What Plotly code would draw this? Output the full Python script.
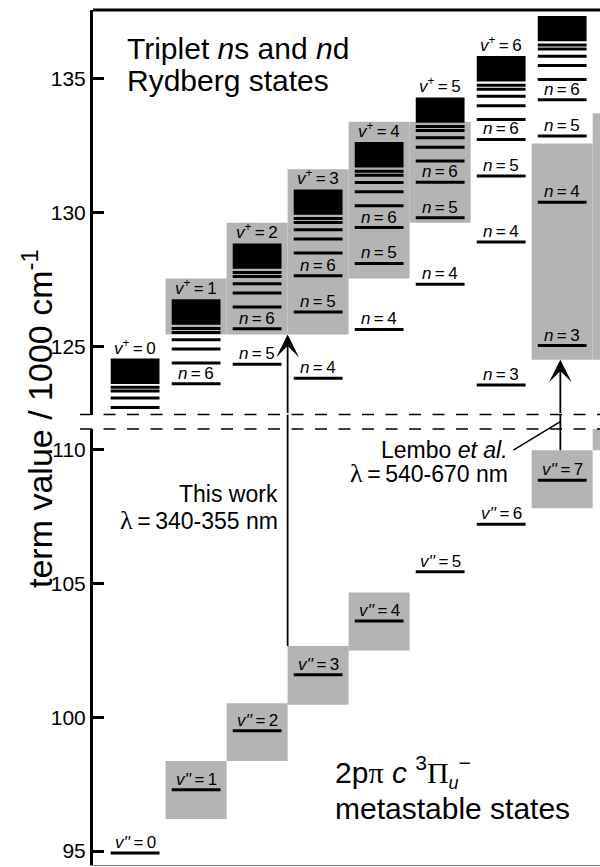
import plotly.graph_objects as go

FONT = "Liberation Sans, Arial, sans-serif"
SERIF = "Liberation Serif, Times New Roman, serif"
GRAY = "rgb(180,180,180)"
TS = "\u2009"  # thin space around '=' in the level labels

# ---------- lower panel: 2p-pi c 3Pi_u(-) metastable vibrational levels (1000 cm-1)
v_meta = [0, 1, 2, 3, 4, 5, 6, 7]
meta_levels = [94.93, 97.29, 99.49, 101.58, 103.59, 105.43, 107.20, 108.85]

# shaded excitation windows in the lower panel (column, bottom, top)
low_win_col = [1, 2, 3, 4, 7, 8]
low_win_lo = [96.20, 98.36, 100.46, 102.49, 107.80, 109.97]
low_win_hi = [98.36, 100.52, 102.66, 104.66, 109.97, 111.60]

# ---------- upper panel: triplet ns/nd Rydberg series converging on each v+
v_ion = [0, 1, 2, 3, 4, 5, 6, 7]
ion_limit = [124.54, 126.76, 128.85, 130.87, 132.64, 134.31, 135.86, 137.36]
dense_bottom = [123.59, 125.81, 127.90, 129.92, 131.69, 133.36, 134.91, 136.41]
high_n = [
    [123.47, 123.33, 123.07, 122.71],
    [125.67, 125.52, 125.25, 124.90, 124.38],
    [127.76, 127.61, 127.34, 126.99, 126.47],
    [129.78, 129.63, 129.36, 129.01, 128.49],
    [131.55, 131.40, 131.13, 130.78, 130.26],
    [133.22, 133.07, 132.80, 132.45, 131.93],
    [134.77, 134.62, 134.35, 134.00, 133.48],
    [136.27, 136.12, 135.85, 135.50, 134.98],
]
n_labelled = [3, 4, 5, 6]
n3 = [None, None, None, None, None, None, 123.55, 125.03]
n4 = [None, None, None, 123.81, 125.63, 127.32, 128.90, 130.39]
n5 = [None, None, 124.33, 126.28, 128.10, 129.81, 131.37, 132.87]
n6 = [None, 123.60, 125.66, 127.64, 129.44, 131.14, 132.74, 134.22]
n_rows = [n3, n4, n5, n6]

# shaded excitation windows in the upper panel (column, bottom, top)
up_win_col = [1, 2, 3, 4, 5, 7, 8]
up_win_lo = [125.44, 125.44, 125.44, 127.54, 129.62, 124.50, 124.50]
up_win_hi = [127.54, 129.62, 131.62, 133.40, 133.40, 132.59, 133.72]

# excitation arrows: column position, start (lower panel), end (upper panel)
arrow_x = [2.5, 6.97]
arrow_from = [102.66, 109.97]
arrow_to = [125.44, 124.50]

# axis set-up
Y_UP = [122.45, 137.58]
Y_LO = [94.48, 110.76]
X_RANGE = [-0.69, 7.62]
DOM_UP = [0.5269, 1.0]
DOM_LO = [0.0, 0.5099]
HALF_LINE = 0.40
HALF_BOX = 0.50

fig = go.Figure()
shapes = []
annos = []

# gray windows
for c, lo, hi in zip(low_win_col, low_win_lo, low_win_hi):
    shapes.append(dict(type="rect", xref="x", yref="y2", x0=c - HALF_BOX, x1=c + HALF_BOX,
                       y0=lo, y1=hi, fillcolor=GRAY, line=dict(width=0), layer="below"))
for c, lo, hi in zip(up_win_col, up_win_lo, up_win_hi):
    shapes.append(dict(type="rect", xref="x", yref="y", x0=c - HALF_BOX, x1=c + HALF_BOX,
                       y0=lo, y1=hi, fillcolor=GRAY, line=dict(width=0), layer="below"))

# dense high-n region below each ionisation limit
for c, lo, hi in zip(v_ion, dense_bottom, ion_limit):
    shapes.append(dict(type="rect", xref="x", yref="y", x0=c - HALF_LINE, x1=c + HALF_LINE,
                       y0=lo, y1=hi, fillcolor="black", line=dict(width=0), layer="below"))

# Rydberg level lines
xs, ys = [], []
for c in v_ion:
    levels = list(high_n[c]) + [row[c] for row in n_rows if row[c] is not None]
    for e in levels:
        xs += [c - HALF_LINE, c + HALF_LINE, None]
        ys += [e, e, None]
fig.add_trace(go.Scatter(x=xs, y=ys, xaxis="x", yaxis="y", mode="lines",
                         line=dict(color="black", width=3), hoverinfo="skip", showlegend=False))

# metastable level lines
xs, ys = [], []
for c, e in zip(v_meta, meta_levels):
    xs += [c - HALF_LINE, c + HALF_LINE, None]
    ys += [e, e, None]
fig.add_trace(go.Scatter(x=xs, y=ys, xaxis="x", yaxis="y2", mode="lines",
                         line=dict(color="black", width=3), hoverinfo="skip", showlegend=False))

LBL = dict(family=FONT, size=17, color="black")

# labels
for c, e in zip(v_meta, meta_levels):
    annos.append(dict(x=c, y=e, xref="x", yref="y2", text=f"<i>v''</i>{TS}={TS}{c}",
                      showarrow=False, yanchor="bottom", yshift=-1, font=LBL))
for c, top in zip(v_ion, ion_limit):
    if c == 7:
        continue
    annos.append(dict(x=c, y=top, xref="x", yref="y", text=f"<i>v</i><sup>+</sup>{TS}={TS}{c}",
                      showarrow=False, yanchor="bottom", yshift=-1, font=LBL))
for n, row in zip(n_labelled, n_rows):
    for c, e in enumerate(row):
        if e is None:
            continue
        annos.append(dict(x=c, y=e, xref="x", yref="y", text=f"<i>n</i>{TS}={TS}{n}",
                          showarrow=False, yanchor="bottom", yshift=-1, font=LBL))

# excitation arrows, split across the axis break
for xa, e0, e1 in zip(arrow_x, arrow_from, arrow_to):
    shapes.append(dict(type="line", xref="x", yref="y2", x0=xa, x1=xa, y0=e0, y1=Y_LO[1] + 1,
                       line=dict(color="black", width=1.8), layer="above"))
    shapes.append(dict(type="line", xref="x", yref="paper", x0=xa, x1=xa,
                       y0=DOM_LO[1], y1=DOM_UP[0], line=dict(color="black", width=1.8), layer="above"))
    annos.append(dict(x=xa, y=e1, xref="x", yref="y", ax=xa, ay=Y_UP[0], axref="x", ayref="y",
                      text="", showarrow=True, arrowhead=3, arrowsize=2.1, arrowwidth=1.8,
                      arrowcolor="black", standoff=0))

# axis break marks
for yb in (DOM_UP[0], DOM_LO[1]):
    shapes.append(dict(type="line", xref="paper", yref="paper", x0=-0.0256, x1=1.0, y0=yb, y1=yb,
                       line=dict(color="black", width=1.5, dash="12px,11.5px"), layer="above"))

# frame top
shapes.append(dict(type="line", xref="paper", yref="paper", x0=0, x1=1, y0=1, y1=1,
                   line=dict(color="black", width=3), layer="above"))


def lower_paper(v):
    return DOM_LO[0] + (v - Y_LO[0]) / (Y_LO[1] - Y_LO[0]) * (DOM_LO[1] - DOM_LO[0])


# leader from the Lembo et al. label to its arrow
shapes.append(dict(type="line", xref="x", yref="paper", x0=6.2, x1=arrow_x[1],
                   y0=lower_paper(109.97), y1=0.5185, line=dict(color="black", width=1.5),
                   layer="above"))

BIG = dict(family=FONT, size=30, color="black")
MID = dict(family=FONT, size=23, color="black")
lam = f"<span style='font-family:{SERIF};font-size:26px'>λ</span>"
pi_s = f"<span style='font-family:{SERIF}'>π</span>"
PI_s = f"<span style='font-family:{SERIF}'>Π</span>"
sub_u = "<sub><span style='font-size:18px'><i>u</i></span></sub>"

annos += [
    dict(x=0.0631, y=0.9552, xref="paper", yref="paper", xanchor="left", yanchor="middle",
         text="Triplet <i>n</i>s and <i>n</i>d", showarrow=False, font=BIG),
    dict(x=0.0631, y=0.9177, xref="paper", yref="paper", xanchor="left", yanchor="middle",
         text="Rydberg states", showarrow=False, font=BIG),
    dict(x=0.4734, y=0.109, xref="paper", yref="paper", xanchor="left", yanchor="middle",
         text=f"2p{pi_s} <i>c</i> <sup>3</sup>{PI_s}{sub_u}<sup>−</sup>",
         showarrow=False, font=BIG),
    dict(x=0.4734, y=0.0659, xref="paper", yref="paper", xanchor="left", yanchor="middle",
         text="metastable states", showarrow=False, font=BIG),
    dict(x=0.3688, y=0.4343, xref="paper", yref="paper", xanchor="right", yanchor="middle",
         text="This work", showarrow=False, font=MID),
    dict(x=0.3688, y=0.4031, xref="paper", yref="paper", xanchor="right", yanchor="middle",
         text=f"{lam}{TS}={TS}340-355 nm", showarrow=False, font=MID),
    dict(x=0.8225, y=0.485, xref="paper", yref="paper", xanchor="right", yanchor="middle",
         text="Lembo <i>et al.</i>", showarrow=False, font=MID),
    dict(x=0.8225, y=0.4577, xref="paper", yref="paper", xanchor="right", yanchor="middle",
         text=f"{lam}{TS}={TS}540-670 nm", showarrow=False, font=MID),
    dict(x=-0.1105, y=0.5228, xref="paper", yref="paper", xanchor="center", yanchor="middle",
         textangle=-90, text="term value / 1000 cm<sup>-1</sup>", showarrow=False,
         font=dict(family=FONT, size=34, color="black")),
]

YAX = dict(showgrid=False, zeroline=False, showline=True, linecolor="black", linewidth=3,
           ticks="inside", ticklen=11, tickwidth=2.5, tickcolor="black",
           tickfont=dict(family=FONT, size=21, color="black"), anchor="x", fixedrange=True)

fig.update_layout(
    width=600, height=867,
    margin=dict(l=93, r=0, t=10, b=2),
    paper_bgcolor="white", plot_bgcolor="white",
    showlegend=False,
    xaxis=dict(range=X_RANGE, domain=[0, 1], anchor="y2", showgrid=False, zeroline=False,
               showticklabels=False, ticks="", showline=True, linecolor="rgb(120,120,120)",
               linewidth=1, fixedrange=True),
    yaxis=dict(range=Y_UP, domain=DOM_UP, tickvals=[125, 130, 135], **YAX),
    yaxis2=dict(range=Y_LO, domain=DOM_LO, tickvals=[95, 100, 105, 110], **YAX),
    shapes=shapes,
    annotations=annos,
)

fig.write_html("out.html")
